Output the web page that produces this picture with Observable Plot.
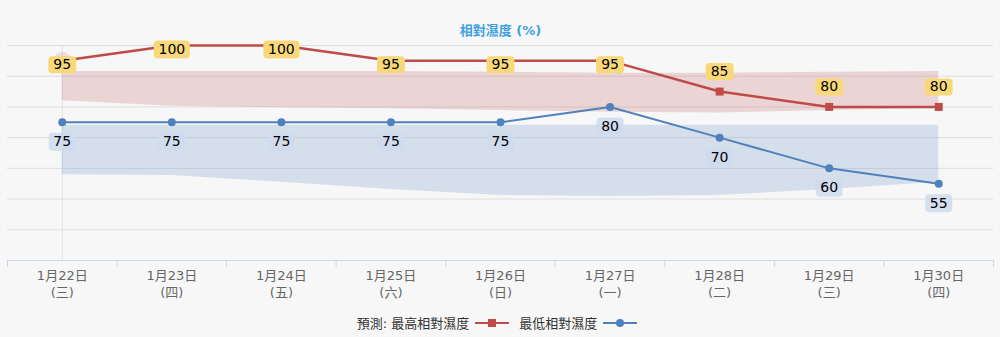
<!DOCTYPE html>
<html>
<head>
<meta charset="utf-8">
<script src="https://cdn.jsdelivr.net/npm/d3@7"></script>
<script src="https://cdn.jsdelivr.net/npm/@observablehq/plot@0.6"></script>
<style>
  html, body { margin: 0; padding: 0; background: #f7f7f7; }
  body { width: 1000px; height: 337px; overflow: hidden; font-family: "DejaVu Sans", "Noto Sans CJK TC", sans-serif; }
  #legend { height: 29px; display: flex; align-items: center; justify-content: center; font-size: 13px; color: #333; }
  #legend svg { margin: 0 6px; }
</style>
</head>
<body>
<div id="chart"></div>
<div id="legend">
  <span>預測: 最高相對濕度</span>
  <svg width="34" height="12"><line x1="0" x2="34" y1="6" y2="6" stroke="#be4b48" stroke-width="2"/><rect x="13" y="2" width="8" height="8" fill="#be4b48"/></svg>
  <span style="margin-left:4px">最低相對濕度</span>
  <svg width="34" height="12"><line x1="0" x2="34" y1="6" y2="6" stroke="#4f81bd" stroke-width="2"/><circle cx="17" cy="6" r="4" fill="#4f81bd"/></svg>
</div>
<script>
const dates = ["1月22日","1月23日","1月24日","1月25日","1月26日","1月27日","1月28日","1月29日","1月30日"];
const weekdays = ["(三)","(四)","(五)","(六)","(日)","(一)","(二)","(三)","(四)"];
const maxRH = [95,100,100,95,95,95,85,80,80];
const minRH = [75,75,75,75,75,80,70,60,55];
const maxBandHigh = [91.5,91.5,91.5,91.5,91.3,91,91,91.3,91.5];
const maxBandLow = [82,80.2,79.7,79.4,78.8,78.3,78,78.8,79.5];
const minBandHigh = [74,74,74,74,74,74,74,74,74];
const minBandLow = [57.9,57.7,55.5,53.1,51.2,50.8,51.2,53.1,55.5];
const yGrid = [40,50,60,70,80,90,100];
const titleText = "相對濕度 (%)";

const rows = dates.map((d, i) => ({
  date: d, wd: weekdays[i], hi: maxRH[i], lo: minRH[i],
  hbHi: maxBandHigh[i], hbLo: maxBandLow[i], lbHi: minBandHigh[i], lbLo: minBandLow[i]
}));

const W = 1000, H = 308, ML = 7, MR = 7, MT = 45, MB = 48;
const step = (W - ML - MR) / dates.length;
const font = "DejaVu Sans, Noto Sans CJK TC, sans-serif";

function roundRect(w, h, r) {
  return {draw(c) {
    const x0 = -w/2, y0 = -h/2, x1 = w/2, y1 = h/2;
    c.moveTo(x0 + r, y0); c.lineTo(x1 - r, y0); c.arcTo(x1, y0, x1, y0 + r, r);
    c.lineTo(x1, y1 - r); c.arcTo(x1, y1, x1 - r, y1, r);
    c.lineTo(x0 + r, y1); c.arcTo(x0, y1, x0, y1 - r, r);
    c.lineTo(x0, y0 + r); c.arcTo(x0, y0, x0 + r, y0, r); c.closePath();
  }};
}

const red = "#be4b48", blue = "#4f81bd";
const yellowBox = "#f9d87a", blueBox = "#cfdbee";

const chart = Plot.plot({
  width: W, height: H, marginLeft: ML, marginRight: MR, marginTop: MT, marginBottom: MB,
  style: {background: "transparent", fontFamily: font},
  x: {type: "point", domain: dates, padding: 0.5, round: false, axis: null},
  y: {domain: [30, 100], axis: null},
  marks: [
    Plot.ruleY(yGrid, {stroke: "#dedede", strokeWidth: 1}),
    Plot.ruleY([30], {stroke: "#ccd6eb", strokeWidth: 1}),
    Plot.axisX({ticks: dates, tickSize: 7, tickFormat: () => "", label: null, dx: -step/2, stroke: "#ccd6eb"}),
    Plot.axisX({ticks: [dates[dates.length-1]], tickSize: 7, tickFormat: () => "", label: null, dx: step/2, stroke: "#ccd6eb"}),
    Plot.ruleX([dates[0]], {stroke: "#e3e3e3", strokeWidth: 1}),
    Plot.text(rows, {x: "date", text: d => d.date + "\n" + d.wd, frameAnchor: "bottom", lineAnchor: "top", dy: 7.5, lineHeight: 1.3, fontSize: 13, fill: "#666"}),
    Plot.text([titleText], {frameAnchor: "top", lineAnchor: "middle", dy: -15, fontSize: 13, fontWeight: "bold", fill: "#3fa2e0"}),
    Plot.areaY(rows, {x: "date", y1: "hbLo", y2: "hbHi", fill: "#c0504d", fillOpacity: 0.2}),
    Plot.areaY(rows, {x: "date", y1: "lbLo", y2: "lbHi", fill: "#4f81bd", fillOpacity: 0.2}),
    Plot.dot(rows.slice(0, 1), {x: "date", y: "hi", r: 9, fill: red, fillOpacity: 0.15}),
    Plot.line(rows, {x: "date", y: "hi", stroke: red, strokeWidth: 2.5}),
    Plot.dot(rows, {x: "date", y: "hi", symbol: "square", r: 4.5, fill: red}),
    Plot.line(rows, {x: "date", y: "lo", stroke: blue, strokeWidth: 2}),
    Plot.dot(rows, {x: "date", y: "lo", r: 4, fill: blue}),
    // label boxes
    Plot.dot(rows, {filter: d => d.hi >= 100, x: "date", y: "hi", dy: 4, symbol: roundRect(36, 18, 4), fill: yellowBox}),
    Plot.dot(rows, {filter: d => d.hi >= 95 && d.hi < 100, x: "date", y: "hi", dy: 4, symbol: roundRect(28, 17, 4), fill: yellowBox}),
    Plot.dot(rows, {filter: d => d.hi < 95, x: "date", y: "hi", dy: -20, symbol: roundRect(28, 17, 4), fill: yellowBox}),
    Plot.dot(rows, {x: "date", y: "lo", dy: 19.5, symbol: roundRect(27, 18, 4), fill: blueBox, fillOpacity: 0.9}),
    // labels
    Plot.text(rows, {filter: d => d.hi >= 95, x: "date", y: "hi", dy: 4, text: d => String(d.hi), fontSize: 14, fill: "#000"}),
    Plot.text(rows, {filter: d => d.hi < 95, x: "date", y: "hi", dy: -20, text: d => String(d.hi), fontSize: 14, fill: "#000"}),
    Plot.text(rows, {x: "date", y: "lo", dy: 19.5, text: d => String(d.lo), fontSize: 14, fill: "#000"})
  ]
});
document.getElementById("chart").appendChild(chart);
</script>
</body>
</html>
